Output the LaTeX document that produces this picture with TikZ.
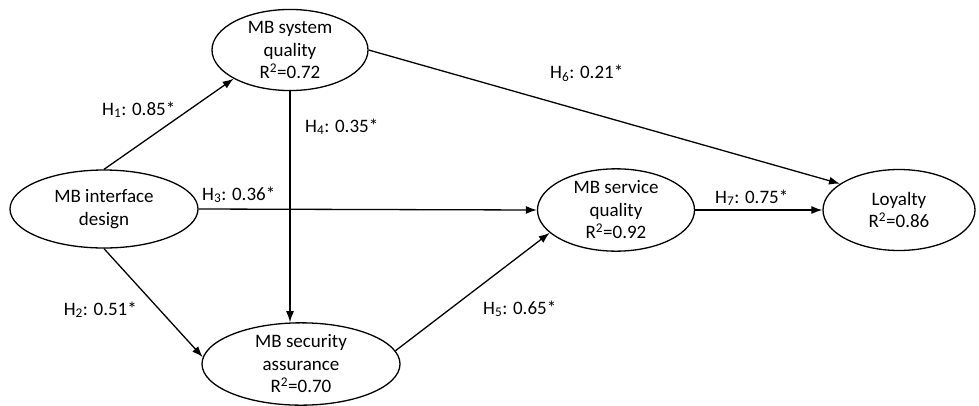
\documentclass[tikz,border=0pt]{standalone}
\usepackage{fontspec}
\setmainfont{Carlito}
\usetikzlibrary{shapes.geometric,arrows.meta,positioning}

\begin{document}
\begin{tikzpicture}[x=1pt, y=-1pt, >={Latex[length=11pt,width=8pt]},
  every node/.style={font=\fontsize{19}{22.5}\selectfont},
  construct/.style={draw, ellipse, line width=1.3pt, inner sep=0pt, align=center},
  hypo/.style={line width=1.3pt, ->},
  coef/.style={inner sep=0pt, anchor=base west}]
  \useasboundingbox (0,0) rectangle (979,405);
  \node[construct, minimum width=188pt, minimum height=78pt] (iface) at (104,209) {MB interface\\design};
  \node[construct, minimum width=156pt, minimum height=80pt] (sysq) at (290,50) {MB system\\quality\\R\textsuperscript{2}=0.72};
  \node[construct, minimum width=198pt, minimum height=80pt] (secq) at (301,364) {MB security\\assurance\\R\textsuperscript{2}=0.70};
  \node[construct, minimum width=157pt, minimum height=78pt] (servq) at (616,210) {MB service\\quality\\R\textsuperscript{2}=0.92};
  \node[construct, minimum width=152pt, minimum height=81pt] (loyal) at (899,210) {Loyalty\\R\textsuperscript{2}=0.86};

  \draw[hypo] (iface.north) -- (sysq.207);
  \draw[hypo] (iface.south) -- (secq.176);
  \draw[hypo] (iface.east) -- (servq.west);
  \draw[hypo] (sysq.south) -- (sysq.south |- secq.north);
  \draw[hypo] (secq.8) -- (servq.199);
  \draw[hypo] (sysq.east) -- (loyal.156);
  \draw[hypo] (servq.east) -- (loyal.west);

  \node[coef] (h1) at (102,115) {H\textsubscript{1}: 0.85*};
  \node[coef, anchor=base east] (h2) at (137,315) {H\textsubscript{2}: 0.51*};
  \node[coef] (h3) at (202,200) {H\textsubscript{3}: 0.36*};
  \node[coef] (h4) at (305,132) {H\textsubscript{4}: 0.35*};
  \node[coef] (h5) at (483,314) {H\textsubscript{5}: 0.65*};
  \node[coef] (h6) at (550,78) {H\textsubscript{6}: 0.21*};
  \node[coef] (h7) at (715,203) {H\textsubscript{7}: 0.75*};
\end{tikzpicture}
\end{document}
